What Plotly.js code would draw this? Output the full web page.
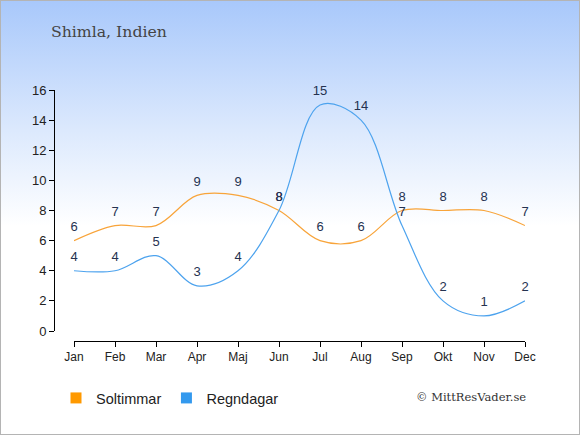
<!DOCTYPE html>
<html>
<head>
<meta charset="utf-8">
<script src="https://cdn.plot.ly/plotly-3.0.1.min.js"></script>
<style>
html,body{margin:0;padding:0;}
#wrap{position:relative;width:580px;height:435px;overflow:hidden;
  background:linear-gradient(to bottom,#a8c8fb 0%,#dce9fd 30%,#ffffff 52%,#ffffff 100%);}
#chart{position:absolute;left:0;top:0;width:580px;height:435px;}
#frame{position:absolute;left:0;top:0;width:578px;height:433px;border:1px solid #b4b4b4;pointer-events:none;}
</style>
</head>
<body>
<div id="wrap"><div id="chart"></div><div id="frame"></div></div>
<script>
const months = ["Jan","Feb","Mar","Apr","Maj","Jun","Jul","Aug","Sep","Okt","Nov","Dec"];
const soltimmar = [6,7,7,9,9,8,6,6,8,8,8,7];
const regndagar = [4,4,5,3,4,8,15,14,7,2,1,2];
const yTicks = [0,2,4,6,8,10,12,14,16];
const seriesNames = ["Soltimmar","Regndagar"];
const titleText = "Shimla, Indien";
const creditText = "© MittResVader.se";

const labelFont = {family:"Liberation Sans, Arial, sans-serif", size:13, color:"#253250"};

const traces = [
  {x:months, y:soltimmar, mode:"lines+markers+text", text:soltimmar.map(String), textposition:"top center",
   textfont:labelFont, marker:{size:9, color:"rgba(0,0,0,0)"},
   line:{color:"#f8a43a", width:1.2, shape:"spline", smoothing:1},
   showlegend:false, hoverinfo:"skip", cliponaxis:false},
  {x:months, y:regndagar, mode:"lines+markers+text", text:regndagar.map(String), textposition:"top center",
   textfont:labelFont, marker:{size:9, color:"rgba(0,0,0,0)"},
   line:{color:"#4da3ee", width:1.2, shape:"spline", smoothing:1},
   showlegend:false, hoverinfo:"skip", cliponaxis:false},
  {x:[null], y:[null], mode:"markers", name:seriesNames[0], marker:{symbol:"square", size:11, color:"#ff9900"}, showlegend:true},
  {x:[null], y:[null], mode:"markers", name:seriesNames[1], marker:{symbol:"square", size:11, color:"#3399ee"}, showlegend:true}
];

const layout = {
  width:580, height:435,
  margin:{l:0,r:0,t:0,b:0},
  paper_bgcolor:"rgba(0,0,0,0)", plot_bgcolor:"rgba(0,0,0,0)",
  showlegend:true,
  xaxis:{type:"category", range:[0,11], domain:[74/580,525/580], anchor:"free", position:1-341/435,
    showgrid:false, zeroline:false, showline:true, linecolor:"#000", linewidth:1,
    ticks:"outside", ticklen:5, tickcolor:"#000", tickfont:{family:"Liberation Sans, Arial, sans-serif", size:12, color:"#222"},
    fixedrange:true, automargin:false},
  yaxis:{range:[0,16], domain:[1-331/435, 1-90/435], anchor:"free", position:54/580,
    tickvals:yTicks, ticktext:yTicks.map(String),
    showgrid:false, zeroline:false, showline:true, linecolor:"#000", linewidth:1,
    ticks:"outside", ticklen:5, tickcolor:"#000", tickfont:{family:"Liberation Sans, Arial, sans-serif", size:13, color:"#222"},
    fixedrange:true, automargin:false},
  legend:{orientation:"h", x:56/580, xanchor:"left", y:1-398/435, yanchor:"middle",
    font:{family:"Liberation Sans, Arial, sans-serif", size:14.5, color:"#222"},
    bgcolor:"rgba(0,0,0,0)", itemclick:false, itemdoubleclick:false},
  title:{text:titleText, x:51/580, xanchor:"left", y:1-32/435, yanchor:"middle",
    font:{family:"DejaVu Serif, serif", size:15.7, color:"#444"}},
  annotations:[{text:creditText, xref:"paper", yref:"paper", x:528/580, xanchor:"right", y:1-397/435, yanchor:"middle",
    showarrow:false, font:{family:"DejaVu Serif, serif", size:11.5, color:"#333"}}]
};

Plotly.newPlot("chart", traces, layout, {staticPlot:true, displayModeBar:false});
</script>
</body>
</html>
